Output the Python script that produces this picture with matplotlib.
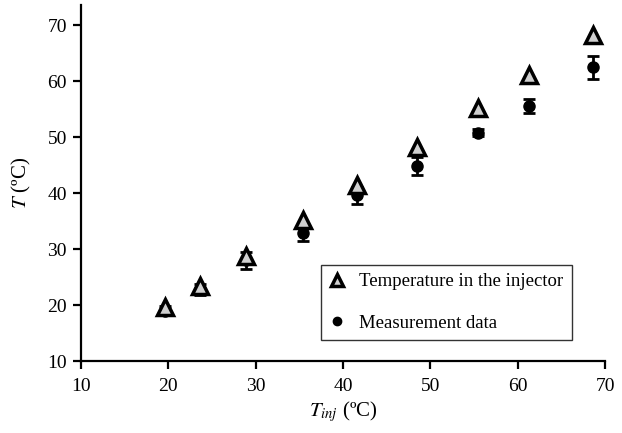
import matplotlib.pyplot as plt

plt.rcParams['font.family'] = 'Liberation Serif'
plt.rcParams['mathtext.fontset'] = 'stix'

# injector temperature vs. predicted/measured temperature
t_inj = [19.6, 23.6, 28.9, 35.4, 41.6, 48.5, 55.4, 61.3, 68.6]
t_injector = [19.6, 23.5, 28.8, 35.3, 41.4, 48.2, 55.3, 61.2, 68.3]
t_meas = [19.0, 22.8, 28.0, 32.9, 39.6, 44.9, 50.8, 55.6, 62.5]
t_err = [0.8, 0.9, 1.5, 1.5, 1.6, 1.6, 0.6, 1.3, 2.0]

fig = plt.figure(figsize=(6.22, 4.33), dpi=100)
ax = fig.add_axes([0.130, 0.166, 0.843, 0.822])

ax.errorbar(t_inj, t_meas, yerr=t_err, fmt='none', ecolor='black',
            elinewidth=2, capsize=4, capthick=2, zorder=2)
ax.plot(t_inj, t_meas, 'o', color='black', markersize=8, zorder=3,
        label='Measurement data')
ax.plot(t_inj, t_injector, '^', markerfacecolor='#d0d0d0', markeredgecolor='black',
        markeredgewidth=2.5, markersize=11, linestyle='none', zorder=4,
        label='Temperature in the injector')

ax.set_xlim(10, 70)
ax.set_ylim(10, 73.6)
ax.set_xticks(range(10, 71, 10))
ax.set_yticks(range(10, 71, 10))
ax.spines['top'].set_visible(False)
ax.spines['right'].set_visible(False)
ax.spines['left'].set_linewidth(1.6)
ax.spines['bottom'].set_linewidth(1.6)
ax.tick_params(direction='out', length=6, width=1.6, labelsize=14)
ax.tick_params(axis='x', pad=6)
ax.tick_params(axis='y', pad=4)

ax.set_xlabel(r'$T_{inj}$ (ºC)', fontsize=15, labelpad=3)
ax.set_ylabel(r'$T$ (ºC)', fontsize=15, labelpad=10)

handles, labels = ax.get_legend_handles_labels()
leg = ax.legend(handles[::-1], labels[::-1], loc='lower right',
                bbox_to_anchor=(0.936, 0.059), borderaxespad=0, fontsize=13.5,
                frameon=True, fancybox=False, edgecolor='black', markerscale=0.75,
                handlelength=0.8, handletextpad=0.8, borderpad=0.45,
                labelspacing=1.3)
leg.get_frame().set_linewidth(1.0)

fig.savefig('out.png', dpi=100)
